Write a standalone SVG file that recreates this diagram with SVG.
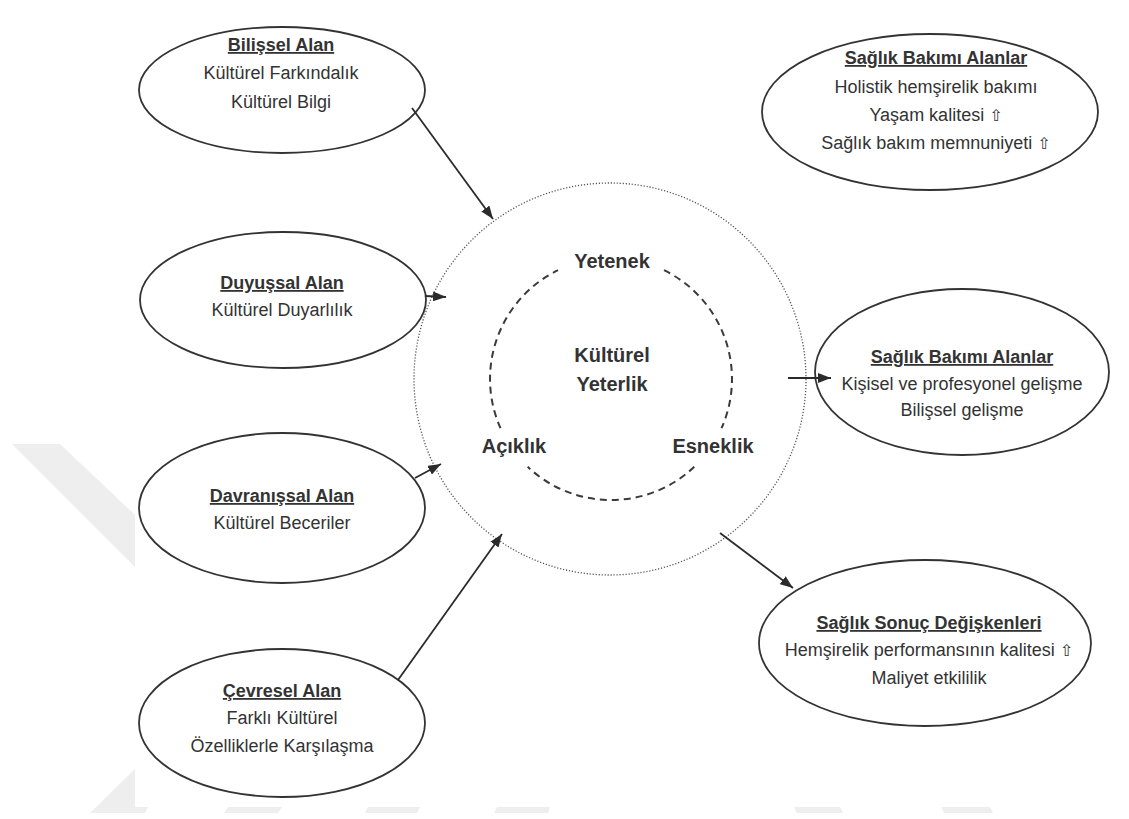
<svg xmlns="http://www.w3.org/2000/svg" width="1129" height="819" viewBox="0 0 1129 819">
<defs>
<marker id="ah" markerUnits="userSpaceOnUse" markerWidth="13" markerHeight="10" refX="13" refY="5" orient="auto">
<path d="M0,0 L13,5 L0,10 z" fill="#2b2b2b"/>
</marker>
<style>
.node{fill:#ffffff;stroke:#333333;stroke-width:1.8}
.t{font-family:"Liberation Sans",Arial,sans-serif;font-size:18px;fill:#333333;text-anchor:middle}
.h{font-weight:bold;text-decoration:underline}
.c{font-family:"Liberation Sans",Arial,sans-serif;font-size:20px;font-weight:bold;fill:#333333;text-anchor:middle}
.up{font-family:"DejaVu Sans",sans-serif;font-size:16px;fill:#333333}
.conn line{stroke:#2b2b2b;stroke-width:1.8;marker-end:url(#ah)}
.wm{fill:#eeeeee}
</style>
</defs>
<rect x="0" y="0" width="1129" height="819" fill="#ffffff"/>
<g id="watermark">
<polygon class="wm" points="12,444 60,444 135,515 135,567"/>
<polygon class="wm" points="134,770 135,770 135,807 148,807 145,813 90,813"/>
<polygon class="wm" points="228,807 282,807 278,813 224,813"/>
<polygon class="wm" points="368,807 420,807 417,813 365,813"/>
<polygon class="wm" points="497,807 550,807 548,813 494,813"/>
<polygon class="wm" points="794,807 840,807 843,813 797,813"/>
<polygon class="wm" points="941,807 990,807 993,813 944,813"/>
</g>
<g id="core">
<circle cx="610" cy="379" r="196" fill="none" stroke="#555555" stroke-width="1.3" stroke-dasharray="1.2 1.8"/>
<g fill="none" stroke="#3a3a3a" stroke-width="2" stroke-dasharray="7 5">
<path d="M664,270.2 A121,121 0 0 1 721.5,428.2"/>
<path d="M694.3,466.8 A121,121 0 0 1 527.7,466.8"/>
<path d="M500.5,428.2 A121,121 0 0 1 558,270.2"/>
</g>
<text class="c" x="612" y="268">Yetenek</text>
<text class="c" x="612" y="362">Kültürel</text>
<text class="c" x="612" y="391">Yeterlik</text>
<text class="c" x="514" y="453">Açıklık</text>
<text class="c" x="713" y="453">Esneklik</text>
</g>
<g id="bilissel">
<ellipse class="node" cx="282" cy="90" rx="143" ry="63"/>
<text class="t h" x="281" y="51">Bilişsel Alan</text>
<text class="t" x="281" y="79">Kültürel Farkındalık</text>
<text class="t" x="281" y="108">Kültürel Bilgi</text>
</g>
<g id="duyussal">
<ellipse class="node" cx="283" cy="300" rx="143" ry="68"/>
<text class="t h" x="282" y="289">Duyuşsal Alan</text>
<text class="t" x="282" y="316">Kültürel Duyarlılık</text>
</g>
<g id="davranissal">
<ellipse class="node" cx="282" cy="508" rx="143" ry="75"/>
<text class="t h" x="282" y="502">Davranışsal Alan</text>
<text class="t" x="282" y="529">Kültürel Beceriler</text>
</g>
<g id="cevresel">
<ellipse class="node" cx="282" cy="723" rx="143" ry="74"/>
<text class="t h" x="282" y="697">Çevresel Alan</text>
<text class="t" x="282" y="724">Farklı Kültürel</text>
<text class="t" x="282" y="752">Özelliklerle Karşılaşma</text>
</g>
<g id="saglik-bakimi-1">
<ellipse class="node" cx="930" cy="112" rx="168" ry="78"/>
<text class="t h" x="936" y="64">Sağlık Bakımı Alanlar</text>
<text class="t" x="936" y="93">Holistik hemşirelik bakımı</text>
<text class="t" x="936" y="121">Yaşam kalitesi <tspan class="up">⇧</tspan></text>
<text class="t" x="936" y="149">Sağlık bakım memnuniyeti <tspan class="up">⇧</tspan></text>
</g>
<g id="saglik-bakimi-2">
<ellipse class="node" cx="962" cy="372" rx="147" ry="83"/>
<text class="t h" x="962" y="363">Sağlık Bakımı Alanlar</text>
<text class="t" x="962" y="390">Kişisel ve profesyonel gelişme</text>
<text class="t" x="962" y="416">Bilişsel gelişme</text>
</g>
<g id="saglik-sonuc">
<ellipse class="node" cx="925" cy="643" rx="166" ry="83"/>
<text class="t h" x="929" y="629">Sağlık Sonuç Değişkenleri</text>
<text class="t" x="929" y="656">Hemşirelik performansının kalitesi <tspan class="up">⇧</tspan></text>
<text class="t" x="929" y="684">Maliyet etkililik</text>
</g>
<g id="connectors" class="conn">
<line x1="412" y1="108" x2="493" y2="219"/>
<line x1="425" y1="296" x2="446" y2="297"/>
<line x1="415" y1="478" x2="441" y2="464"/>
<line x1="398" y1="680" x2="502" y2="534"/>
<line x1="788" y1="378" x2="831" y2="378"/>
<line x1="720" y1="533" x2="793" y2="588"/>
</g>
</svg>
